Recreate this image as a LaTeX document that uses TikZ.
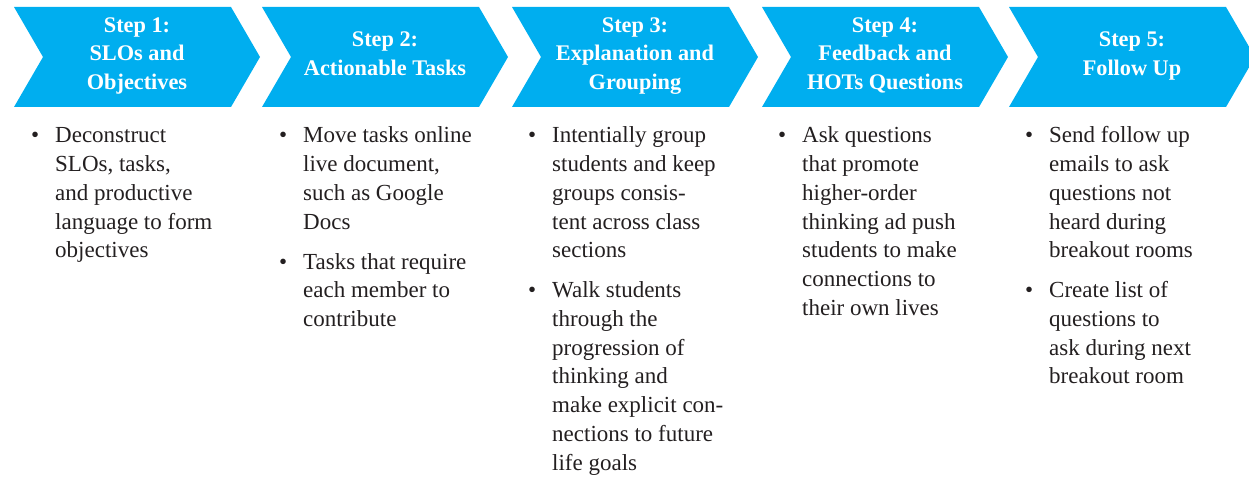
\documentclass[tikz,border=0pt]{standalone}
\usepackage{fontspec}
\setmainfont{Liberation Serif}
\definecolor{stepblue}{RGB}{0,174,239}
\definecolor{ink}{RGB}{35,31,32}

\tikzset{
  chevron/.style={fill=stepblue},
  steplabel/.style={anchor=base, inner sep=0pt, text=white,
    font=\bfseries\fontsize{22.3}{28.5}\selectfont},
  bulletitem/.style={anchor=base west, inner sep=0pt, text=ink,
    font=\fontsize{23}{28.7}\selectfont},
}
% centred heading inside a chevron; baseline = first line
\newcommand\headtext[1]{\begin{minipage}[t]{220pt}\centering #1\end{minipage}}
% one bulleted paragraph; the bullet hangs to the left of the text
\newcommand\itemtext[1]{\begin{minipage}[t]{200pt}\raggedright\leavevmode\llap{\textbullet\hspace{16pt}}#1\end{minipage}}

\begin{document}
\begin{tikzpicture}[x=1pt,y=-1pt]
\useasboundingbox (0,0) rectangle (1249,478);

% the five chevrons
\foreach \a in {14,262,512,762,1009}{
  \fill[chevron] (\a,7) -- ++(217,0) -- ++(29,50) -- ++(-29,50)
    -- ++(-217,0) -- ++(29,-50) -- cycle;
}

% headings
\node[steplabel] (s1) at (137,32.4)  {\headtext{Step 1:\\SLOs and\\Objectives}};
\node[steplabel] (s2) at (385,46.7)  {\headtext{Step 2:\\Actionable Tasks}};
\node[steplabel] (s3) at (635,32.4)  {\headtext{Step 3:\\Explanation and\\Grouping}};
\node[steplabel] (s4) at (885,32.4)  {\headtext{Step 4:\\Feedback and\\HOTs Questions}};
\node[steplabel] (s5) at (1132,46.7) {\headtext{Step 5:\\Follow Up}};

% bullet points under each step
\node[bulletitem] (b1a) at (55,143) {\itemtext{Deconstruct\\SLOs, tasks,\\and productive\\language to form\\objectives}};

\node[bulletitem] (b2a) at (303,143) {\itemtext{Move tasks online\\live document,\\such as Google\\Docs}};
\node[bulletitem] (b2b) at (303,269.1) {\itemtext{Tasks that require\\each member to\\contribute}};

\node[bulletitem] (b3a) at (552,143) {\itemtext{Intentially group\\students and keep\\groups consis-\\tent across class\\sections}};
\node[bulletitem] (b3b) at (552,297.8) {\itemtext{Walk students\\through the\\progression of\\thinking and\\make explicit con-\\nections to future\\life goals}};

\node[bulletitem] (b4a) at (802,143) {\itemtext{Ask questions\\that promote\\higher-order\\thinking ad push\\students to make\\connections to\\their own lives}};

\node[bulletitem] (b5a) at (1049,143) {\itemtext{Send follow up\\emails to ask\\questions not\\heard during\\breakout rooms}};
\node[bulletitem] (b5b) at (1049,297.8) {\itemtext{Create list of\\questions to\\ask during next\\breakout room}};
\end{tikzpicture}
\end{document}
